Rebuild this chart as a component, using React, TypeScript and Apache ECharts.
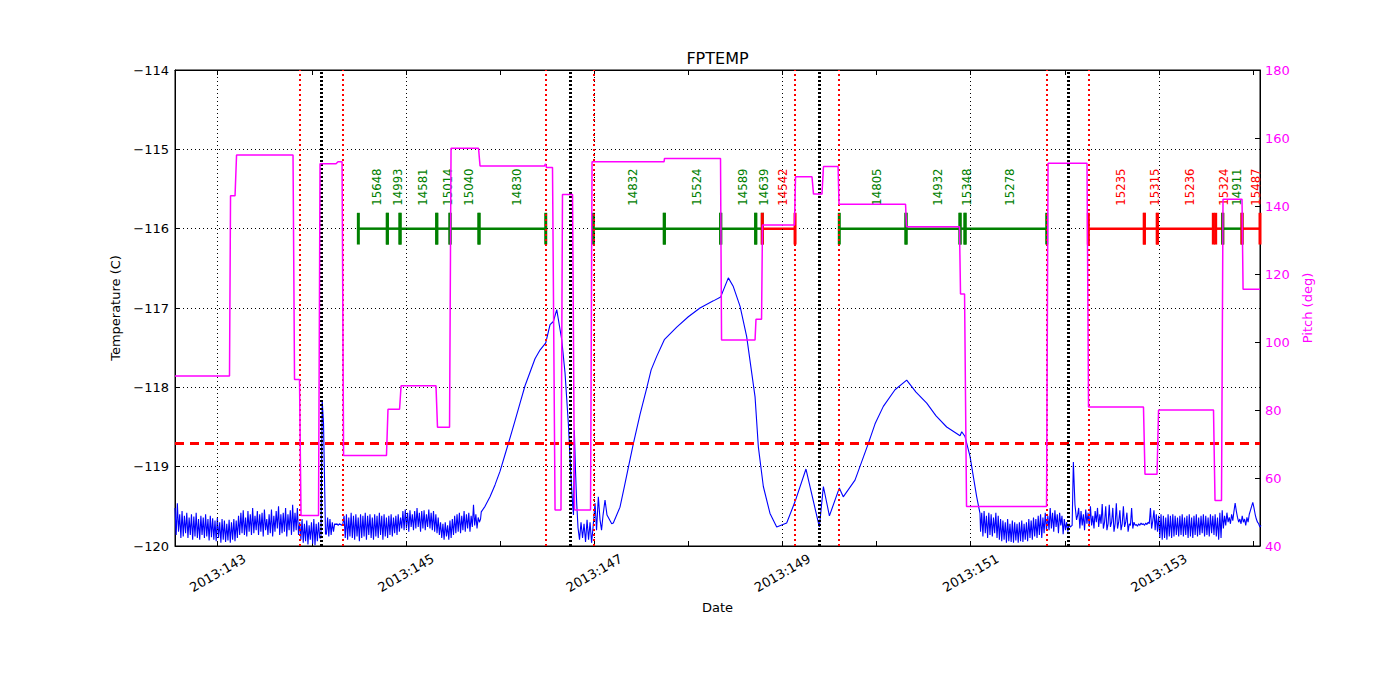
import React, { useEffect, useRef } from "react";
import * as echarts from "echarts";

// ---------- axis ranges / ticks ----------
const X_MIN = 142.546;
const X_MAX = 154.074;
const labelDays = [143, 145, 147, 149, 151, 153];
const tickDays = [143, 144, 145, 146, 147, 148, 149, 150, 151, 152, 153, 154];
const tempMin = -120;
const tempMax = -114;
const pitchMin = 40;
const pitchMax = 180;

// ---------- reference lines ----------
const limitTemp = -118.7;
const redLineDays = [143.871, 144.334, 146.485, 146.991, 149.134, 149.604, 151.808, 152.25];
const blackLineDays = [144.105, 146.754, 149.392, 152.037];

// ---------- obsids ----------
const obsidLabels = ["15648", "14993", "14581", "15014", "15040", "14830", "14832", "15524", "14589", "14639", "14542", "14805", "14932", "15348", "15278", "15235", "15315", "15236", "15324", "14911", "15487"];
const obsidStart = [144.494, 144.802, 144.937, 145.327, 145.468, 145.776, 146.991, 147.745, 148.344, 148.716, 148.786, 149.604, 150.313, 150.887, 150.94, 152.25, 152.845, 152.983, 153.603, 153.678, 153.883];
const obsidEnd = [144.802, 144.937, 145.327, 145.468, 145.776, 146.485, 147.745, 148.344, 148.716, 148.786, 149.134, 150.313, 150.887, 150.94, 151.808, 152.845, 152.983, 153.578, 153.678, 153.883, 154.074];
const obsidFlag = ["g", "g", "g", "g", "g", "g", "g", "g", "g", "g", "r", "g", "g", "g", "g", "r", "r", "r", "r", "g", "r"];

// ---------- pitch (deg) ----------
const pitchDays = [142.546, 143.125, 143.136, 143.184, 143.2, 143.8, 143.816, 143.869, 143.885, 144.071, 144.087, 144.257, 144.278, 144.321, 144.337, 144.793, 144.809, 144.932, 144.948, 145.319, 145.335, 145.463, 145.479, 145.771, 145.787, 146.472, 146.483, 146.493, 146.557, 146.584, 146.647, 146.663, 146.77, 146.791, 146.961, 146.977, 147.742, 147.747, 148.342, 148.353, 148.709, 148.719, 148.778, 148.788, 149.128, 149.139, 149.314, 149.33, 149.42, 149.436, 149.591, 149.601, 150.308, 150.318, 150.881, 150.892, 150.935, 150.956, 151.806, 151.822, 152.236, 152.252, 152.836, 152.852, 152.98, 152.996, 153.58, 153.596, 153.665, 153.681, 153.883, 153.894, 154.074];
const pitchValues = [90, 90, 143, 143, 155, 155, 89, 89, 49, 49, 152.4, 152.4, 153, 153, 66.6, 66.6, 80.2, 80.2, 87.1, 87.1, 74.9, 74.9, 157, 157, 151.8, 151.8, 152.4, 151.3, 151.3, 50.6, 50.6, 143.4, 143.4, 50.6, 50.6, 153, 153, 154, 154, 100.6, 100.6, 106.7, 106.7, 134.4, 134.4, 148.6, 148.6, 143.5, 143.5, 151.6, 151.6, 140.5, 140.5, 133.9, 133.9, 114.1, 114.1, 51.6, 51.6, 152.6, 152.6, 80.9, 80.9, 61.1, 61.1, 80, 80, 53.4, 53.4, 142, 142, 115.5, 115.5];

// ---------- temperature (C) ----------
const sampleStep = 0.0125;
const noiseA1Start = 142.546;
const noiseA1 = [
  -119.52, -119.86, -119.46, -119.82, -119.6, -119.9, -119.56, -119.88, -119.62, -119.84,
  -119.58, -119.9, -119.64, -119.86, -119.6, -119.92, -119.63, -119.88, -119.58, -119.9,
  -119.66, -119.92, -119.62, -119.86, -119.64, -119.9, -119.6, -119.88, -119.66, -119.93,
  -119.62, -119.89, -119.65, -119.92, -119.68, -119.94, -119.64, -119.9, -119.7, -119.96,
  -119.66, -119.92, -119.68, -119.95, -119.72, -119.93, -119.67, -119.96, -119.7, -119.92,
  -119.66, -119.94, -119.68, -119.9, -119.62, -119.86, -119.58, -119.84, -119.55, -119.86,
  -119.64, -119.88, -119.56, -119.82, -119.6, -119.86, -119.52, -119.84, -119.62, -119.8,
  -119.56, -119.86, -119.6, -119.82, -119.58, -119.88, -119.54, -119.8, -119.66, -119.86,
  -119.6, -119.84, -119.54, -119.88, -119.62, -119.82, -119.56, -119.78, -119.5, -119.86,
  -119.6, -119.84, -119.58, -119.82, -119.52, -119.88, -119.6, -119.8, -119.55, -119.86,
  -119.48, -119.82, -119.58, -119.8, -119.52, -119.86, -119.7, -119.92, -119.66, -119.96,
  -119.72, -119.94, -119.68, -119.98, -119.74, -119.92, -119.7, -119.97, -119.66, -119.99,
  -119.72, -119.94, -119.7, -119.9,
];
const spike1Days = [144.097, 144.11, 144.124, 144.145];
const spike1Temps = [-119.9, -118.17, -118.45, -119.85];
const noiseA3Start = 144.155;
const noiseA3 = [
  -119.85, -119.64, -119.88, -119.66, -119.86, -119.7, -119.82, -119.72, -119.73, -119.72,
  -119.74, -119.72, -119.73, -119.74, -119.72, -119.62, -119.9, -119.6, -119.92, -119.64,
  -119.88, -119.58, -119.9, -119.62, -119.92, -119.6, -119.88, -119.64, -119.94, -119.6,
  -119.9, -119.62, -119.88, -119.58, -119.92, -119.62, -119.86, -119.6, -119.9, -119.64,
  -119.92, -119.6, -119.88, -119.62, -119.9, -119.58, -119.86, -119.62, -119.92, -119.6,
  -119.88, -119.64, -119.9, -119.62, -119.86, -119.6, -119.88, -119.64, -119.84, -119.62,
  -119.86, -119.6, -119.82, -119.64, -119.78, -119.56, -119.8, -119.54, -119.78, -119.58,
  -119.82, -119.55, -119.76, -119.6, -119.8, -119.56, -119.78, -119.52, -119.76, -119.58,
  -119.82, -119.56, -119.78, -119.55, -119.8, -119.6, -119.76, -119.54, -119.78, -119.58,
  -119.8, -119.56, -119.82, -119.6, -119.84, -119.64, -119.86, -119.7, -119.9, -119.72,
  -119.92, -119.7, -119.88, -119.74, -119.92, -119.68, -119.9, -119.66, -119.86, -119.62,
  -119.84, -119.6, -119.82, -119.58, -119.84, -119.62, -119.8, -119.56, -119.82, -119.6,
  -119.78, -119.58, -119.82, -119.62, -119.76, -119.48, -119.74, -119.6, -119.78, -119.64,
  -119.7, -119.66,
];
const curveDays = [
  145.8, 145.84, 145.893, 145.946, 145.999, 146.052, 146.105, 146.159, 146.212, 146.265,
  146.318, 146.371, 146.424, 146.485, 146.531, 146.566, 146.602, 146.655, 146.69, 146.725,
  146.751, 146.772, 146.78, 146.789, 146.801, 146.814, 146.828, 146.844, 146.86, 146.876,
  146.892, 146.908, 146.924, 146.94, 146.956, 146.972, 146.988, 147.009, 147.025, 147.044,
  147.062, 147.078, 147.094, 147.115, 147.136, 147.186, 147.203, 147.274, 147.317, 147.363,
  147.416, 147.487, 147.558, 147.605, 147.664, 147.745, 147.877, 148.0, 148.124, 148.266,
  148.344, 148.425, 148.478, 148.55, 148.62, 148.709, 148.744, 148.797, 148.868, 148.939,
  149.045, 149.134, 149.25, 149.392, 149.435, 149.499, 149.604, 149.646, 149.771, 149.912,
  149.984, 150.072, 150.196, 150.32, 150.419, 150.533, 150.632, 150.745, 150.887, 150.905,
  150.94, 150.993, 151.064, 151.099,
];
const curveTemps = [
  -119.57, -119.5, -119.38, -119.23, -119.06, -118.85, -118.64, -118.42, -118.2, -117.98,
  -117.81, -117.64, -117.53, -117.44, -117.21, -117.17, -117.02, -117.4, -117.82, -118.45,
  -119.08, -119.5, -119.61, -118.54, -119.04, -119.46, -119.77, -119.92, -119.7, -119.9,
  -119.72, -119.95, -119.67, -119.92, -119.7, -119.96, -119.76, -119.46, -119.8, -119.38,
  -119.67, -119.8, -119.61, -119.42, -119.61, -119.72, -119.71, -119.51, -119.27, -119.01,
  -118.71, -118.34, -118.01, -117.78, -117.61, -117.4, -117.24, -117.11, -117.0, -116.91,
  -116.86, -116.62, -116.73, -116.98, -117.36, -118.12, -118.75, -119.25, -119.59, -119.76,
  -119.71, -119.44, -119.03, -119.76, -119.25, -119.62, -119.27, -119.38, -119.17, -118.71,
  -118.46, -118.24, -118.03, -117.91, -118.06, -118.2, -118.36, -118.5, -118.61, -118.56,
  -118.62, -118.87, -119.38, -119.59,
];
const noiseBStart = 151.105;
const noiseB = [
  -119.82, -119.58, -119.88, -119.56, -119.84, -119.62, -119.9, -119.58, -119.86, -119.6,
  -119.88, -119.64, -119.84, -119.58, -119.9, -119.62, -119.92, -119.66, -119.94, -119.68,
  -119.92, -119.7, -119.96, -119.66, -119.94, -119.72, -119.95, -119.68, -119.96, -119.7,
  -119.93, -119.72, -119.96, -119.7, -119.94, -119.68, -119.95, -119.72, -119.92, -119.7,
  -119.94, -119.66, -119.9, -119.68, -119.92, -119.64, -119.88, -119.66, -119.9, -119.62,
  -119.86, -119.6, -119.9, -119.64, -119.84, -119.58, -119.8,
];
const noiseCStart = 151.82;
const noiseC = [
  -119.62, -119.8, -119.52, -119.78, -119.58, -119.82, -119.55, -119.76, -119.6, -119.84,
  -119.58, -119.74, -119.62, -119.85, -119.66, -119.8, -119.7, -119.82, -119.72, -119.76,
];
const spike2Days = [152.078, 152.091, 152.108, 152.125];
const spike2Temps = [-119.74, -118.94, -119.48, -119.67];
const noiseDStart = 152.135;
const noiseD = [
  -119.62, -119.52, -119.78, -119.56, -119.74, -119.6, -119.8, -119.54, -119.72, -119.58,
  -119.76, -119.5, -119.74, -119.62, -119.78, -119.56, -119.7, -119.52, -119.76, -119.6,
  -119.72, -119.47, -119.78, -119.7, -119.5, -119.8, -119.72, -119.48, -119.76, -119.7,
  -119.52, -119.82, -119.72, -119.46, -119.78, -119.7, -119.55, -119.8, -119.72, -119.5,
  -119.76, -119.7, -119.58, -119.82, -119.72, -119.74, -119.52, -119.78, -119.7, -119.74,
  -119.73, -119.75, -119.72, -119.74, -119.71, -119.73, -119.72, -119.74, -119.71, -119.73,
  -119.7, -119.72, -119.52, -119.78, -119.68, -119.55, -119.8, -119.6, -119.82, -119.62,
  -119.9, -119.6, -119.92, -119.62, -119.9, -119.64, -119.92, -119.6, -119.88, -119.62,
  -119.9, -119.6, -119.88, -119.62, -119.86, -119.64, -119.88, -119.62, -119.86, -119.6,
  -119.88, -119.64, -119.86, -119.62, -119.9, -119.6, -119.88, -119.64, -119.9, -119.62,
  -119.86, -119.6, -119.88, -119.64, -119.86, -119.62, -119.84, -119.6, -119.88, -119.62,
  -119.86, -119.64, -119.88, -119.6, -119.84, -119.62, -119.86, -119.6, -119.88, -119.64,
  -119.92, -119.58, -119.9, -119.55, -119.78, -119.62, -119.74, -119.58, -119.7, -119.64,
  -119.72, -119.6, -119.68, -119.56, -119.46, -119.56, -119.64, -119.7, -119.66, -119.72,
  -119.62, -119.7, -119.66, -119.74, -119.64, -119.7, -119.6, -119.55, -119.5, -119.45,
  -119.52, -119.6, -119.66, -119.7, -119.72, -119.76, -119.74,
];

const FONT = "DejaVu Sans";

function sampled(start: number, values: number[]): number[][] {
  return values.map((v, i) => [start + i * sampleStep, v]);
}
function paired(days: number[], vals: number[]): number[][] {
  return days.map((d, i) => [d, vals[i]]);
}
const minus = (v: number) => (v < 0 ? "\u2212" + Math.abs(v) : String(v));

export default function App() {
  const ref = useRef<HTMLDivElement>(null);
  useEffect(() => {
    if (!ref.current) return;
    const chart = echarts.init(ref.current, undefined, { renderer: "svg" });

    const tempData = [
      ...sampled(noiseA1Start, noiseA1),
      ...paired(spike1Days, spike1Temps),
      ...sampled(noiseA3Start, noiseA3),
      ...paired(curveDays, curveTemps),
      ...sampled(noiseBStart, noiseB),
      ...sampled(noiseCStart, noiseC),
      ...paired(spike2Days, spike2Temps),
      ...sampled(noiseDStart, noiseD),
    ];
    const pitchData = paired(pitchDays, pitchValues);
    const obsData = obsidStart.map((s, i) => [s, obsidEnd[i], i]);

    const gridMarks = labelDays.map((d) => ({
      xAxis: d,
      lineStyle: { color: "#000", width: 1, type: [1, 3] },
    }));
    const limitMarks: any[] = [
      { yAxis: limitTemp, lineStyle: { color: "#ff0000", width: 3, type: [9, 6] } },
      ...redLineDays.map((d) => ({ xAxis: d, lineStyle: { color: "#ff0000", width: 2, type: [2, 3] } })),
      ...blackLineDays.map((d) => ({ xAxis: d, lineStyle: { color: "#000", width: 3, type: [2, 2] } })),
    ];

    const option: any = {
      animation: false,
      backgroundColor: "#fff",
      textStyle: { fontFamily: FONT },
      grid: {
        left: 175,
        right: 140,
        top: 70,
        bottom: 154,
        show: true,
        borderColor: "#000",
        borderWidth: 1,
        backgroundColor: "transparent",
      },
      graphic: [
        {
          type: "text",
          x: 717.5,
          y: 58,
          style: { text: "FPTEMP", fill: "#000", font: `16px "${FONT}"`, align: "center", verticalAlign: "middle" },
        },
      ],
      xAxis: [
        {
          type: "value",
          position: "bottom",
          min: X_MIN,
          max: X_MAX,
          axisLine: { show: true, lineStyle: { color: "#000", width: 1 } },
          axisTick: { show: true, inside: true, length: 5, customValues: tickDays, lineStyle: { color: "#000" } },
          axisLabel: {
            customValues: labelDays,
            formatter: (v: number) => "2013:" + Math.round(v),
            rotate: 30,
            align: "center",
            verticalAlign: "middle",
            margin: 27,
            fontSize: 13,
            color: "#000",
            fontFamily: FONT,
          },
          splitLine: { show: false },
          name: "Date",
          nameLocation: "middle",
          nameGap: 50,
          nameTextStyle: { fontSize: 13, color: "#000", fontFamily: FONT },
        },
        {
          type: "value",
          position: "top",
          min: X_MIN,
          max: X_MAX,
          axisLine: { show: true, lineStyle: { color: "#000", width: 1 } },
          axisTick: { show: true, inside: true, length: 5, customValues: tickDays, lineStyle: { color: "#000" } },
          axisLabel: { show: false },
          splitLine: { show: false },
        },
      ],
      yAxis: [
        {
          type: "value",
          position: "left",
          min: tempMin,
          max: tempMax,
          interval: 1,
          axisLine: { show: true, lineStyle: { color: "#000", width: 1 } },
          axisTick: { show: true, inside: true, length: 5, lineStyle: { color: "#000" } },
          axisLabel: { formatter: minus, fontSize: 13, color: "#000", margin: 6, fontFamily: FONT },
          splitLine: { show: true, lineStyle: { color: "#000", width: 1, type: [1, 3] } },
          name: "Temperature (C)",
          nameLocation: "middle",
          nameGap: 45,
          nameTextStyle: { fontSize: 13, color: "#000", fontFamily: FONT },
        },
        {
          type: "value",
          position: "right",
          min: pitchMin,
          max: pitchMax,
          interval: 20,
          axisLine: { show: true, lineStyle: { color: "#000", width: 1 } },
          axisTick: { show: true, inside: true, length: 5, lineStyle: { color: "#000" } },
          axisLabel: { fontSize: 13, color: "#ff00ff", margin: 5, fontFamily: FONT },
          splitLine: { show: false },
          name: "Pitch (deg)",
          nameLocation: "middle",
          nameGap: 37,
          nameTextStyle: { fontSize: 13, color: "#ff00ff", fontFamily: FONT },
        },
      ],
      series: [
        {
          name: "grid",
          type: "line",
          xAxisIndex: 0,
          yAxisIndex: 0,
          data: [],
          z: 1,
          silent: true,
          markLine: { symbol: ["none", "none"], silent: true, label: { show: false }, data: gridMarks },
        },
        {
          name: "FPTEMP",
          type: "line",
          xAxisIndex: 0,
          yAxisIndex: 0,
          data: tempData,
          showSymbol: false,
          symbol: "none",
          z: 2,
          lineStyle: { color: "#0000ff", width: 1.1 },
          itemStyle: { color: "#0000ff" },
        },
        {
          name: "limits",
          type: "line",
          xAxisIndex: 0,
          yAxisIndex: 0,
          data: [],
          z: 3,
          silent: true,
          markLine: { symbol: ["none", "none"], silent: true, label: { show: false }, data: limitMarks },
        },
        {
          name: "obsids",
          type: "custom",
          xAxisIndex: 0,
          yAxisIndex: 0,
          z: 4,
          clip: false,
          data: obsData,
          encode: { x: [0, 1], y: 2 },
          renderItem: (params: any, api: any) => {
            const s = api.value(0);
            const e = api.value(1);
            const idx = api.value(2);
            const color = obsidFlag[idx] === "r" ? "#ff0000" : "#008000";
            const a = api.coord([s, -116]);
            const b = api.coord([e, -116]);
            const lo = api.coord([s, -116.2])[1];
            const hi = api.coord([s, -115.8])[1];
            const ly = api.coord([s, -115.71])[1];
            return {
              type: "group",
              children: [
                { type: "line", shape: { x1: a[0], y1: a[1], x2: b[0], y2: b[1] }, style: { stroke: color, lineWidth: 2.5 } },
                { type: "line", shape: { x1: a[0], y1: lo, x2: a[0], y2: hi }, style: { stroke: color, lineWidth: 3 } },
                { type: "line", shape: { x1: b[0], y1: lo, x2: b[0], y2: hi }, style: { stroke: color, lineWidth: 3 } },
                {
                  type: "text",
                  x: (a[0] + b[0]) / 2 + 4.5,
                  y: ly,
                  rotation: Math.PI / 2,
                  style: {
                    text: obsidLabels[idx],
                    fill: color,
                    fontSize: 11.7,
                    fontFamily: FONT,
                    align: "left",
                    verticalAlign: "middle",
                  },
                },
              ],
            };
          },
        },
        {
          name: "Pitch",
          type: "line",
          xAxisIndex: 0,
          yAxisIndex: 1,
          data: pitchData,
          showSymbol: false,
          symbol: "none",
          z: 5,
          lineStyle: { color: "#ff00ff", width: 1.5 },
          itemStyle: { color: "#ff00ff" },
        },
      ],
    };
    chart.setOption(option);
    return () => chart.dispose();
  }, []);
  return (
    <div
      ref={ref}
      style={{ position: "fixed", left: 0, top: 0, width: 1400, height: 700, background: "#fff" }}
    />
  );
}
